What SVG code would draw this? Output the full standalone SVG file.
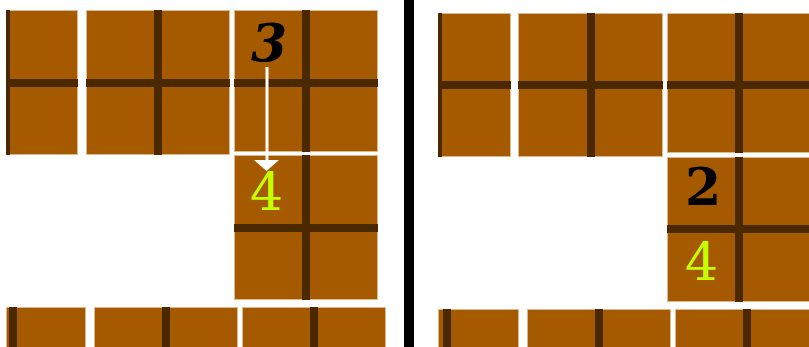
<svg xmlns="http://www.w3.org/2000/svg" width="809" height="347" viewBox="0 0 809 347">
<style>
.blk{fill:#a65a00;stroke:#dcb98e;stroke-width:1}
.ln{fill:#4a2800}
.d3{font-family:"DejaVu Serif",serif;font-style:italic;font-weight:bold;font-size:52px;fill:#000;text-anchor:middle}
.d2{font-family:"DejaVu Serif",serif;font-weight:bold;font-size:52px;fill:#000;text-anchor:middle}
.d4{font-family:"DejaVu Serif",serif;font-size:52px;fill:#c4ff00;text-anchor:middle}
</style>
<rect width="809" height="347" fill="#fff"/>
<g id="left-panel">
  <g id="L-A"><rect class="blk" x="6.5" y="10.5" width="71" height="144"/><rect class="ln" x="6" y="10" width="4" height="145"/><rect class="ln" x="6" y="79" width="72" height="8"/></g>
  <g id="L-B"><rect class="blk" x="86.5" y="10.5" width="143" height="144"/><rect class="ln" x="154" y="10" width="8" height="145"/><rect class="ln" x="86" y="79" width="144" height="8"/></g>
  <g id="L-C"><rect class="blk" x="234.5" y="10.5" width="143" height="141"/><rect class="ln" x="302" y="10" width="8" height="142"/><rect class="ln" x="234" y="79" width="144" height="8"/></g>
  <g id="L-D"><rect class="blk" x="234.5" y="155.5" width="143" height="144"/><rect class="ln" x="302" y="155" width="8" height="145"/><rect class="ln" x="234" y="224" width="144" height="8"/></g>
  <g id="L-E"><rect class="blk" x="6.5" y="307.5" width="79" height="45"/><rect class="ln" x="9" y="307" width="8" height="45"/></g>
  <g id="L-F"><rect class="blk" x="94.5" y="307.5" width="143" height="45"/><rect class="ln" x="162" y="307" width="8" height="45"/></g>
  <g id="L-G"><rect class="blk" x="242.5" y="307.5" width="143" height="45"/><rect class="ln" x="310" y="307" width="8" height="45"/></g>
  <g id="L-3"><text class="d3" x="269" y="61">3</text></g>
  <g id="L-4"><text class="d4" x="266.5" y="210">4</text></g>
</g>
<g id="connectors">
  <line x1="267" y1="67" x2="267" y2="161" stroke="#fff" stroke-width="3"/>
  <polygon points="254,160 279,160 266.5,171" fill="#fff"/>
</g>
<g id="divider"><rect x="404" y="0" width="10" height="347" fill="#000"/></g>
<g id="right-panel">
  <g id="R-A"><rect class="blk" x="438.5" y="13.5" width="72" height="143"/><rect class="ln" x="438" y="13" width="4" height="144"/><rect class="ln" x="438" y="81" width="73" height="8"/></g>
  <g id="R-B"><rect class="blk" x="518.5" y="13.5" width="144" height="143"/><rect class="ln" x="587" y="13" width="8" height="144"/><rect class="ln" x="518" y="81" width="145" height="8"/></g>
  <g id="R-C"><rect class="blk" x="667.5" y="13.5" width="150" height="139"/><rect class="ln" x="735" y="13" width="8" height="140"/><rect class="ln" x="667" y="81" width="150" height="8"/></g>
  <g id="R-D"><rect class="blk" x="667.5" y="157.5" width="150" height="144"/><rect class="ln" x="735" y="157" width="8" height="145"/><rect class="ln" x="667" y="225" width="150" height="8"/></g>
  <g id="R-E"><rect class="blk" x="438.5" y="309.5" width="80" height="45"/><rect class="ln" x="443" y="309" width="8" height="45"/></g>
  <g id="R-F"><rect class="blk" x="527.5" y="309.5" width="143" height="45"/><rect class="ln" x="595" y="309" width="8" height="45"/></g>
  <g id="R-G"><rect class="blk" x="675.5" y="309.5" width="150" height="45"/><rect class="ln" x="743" y="309" width="8" height="45"/></g>
  <g id="R-2"><text class="d2" x="703" y="205">2</text></g>
  <g id="R-4"><text class="d4" x="701.5" y="280">4</text></g>
</g>
</svg>
